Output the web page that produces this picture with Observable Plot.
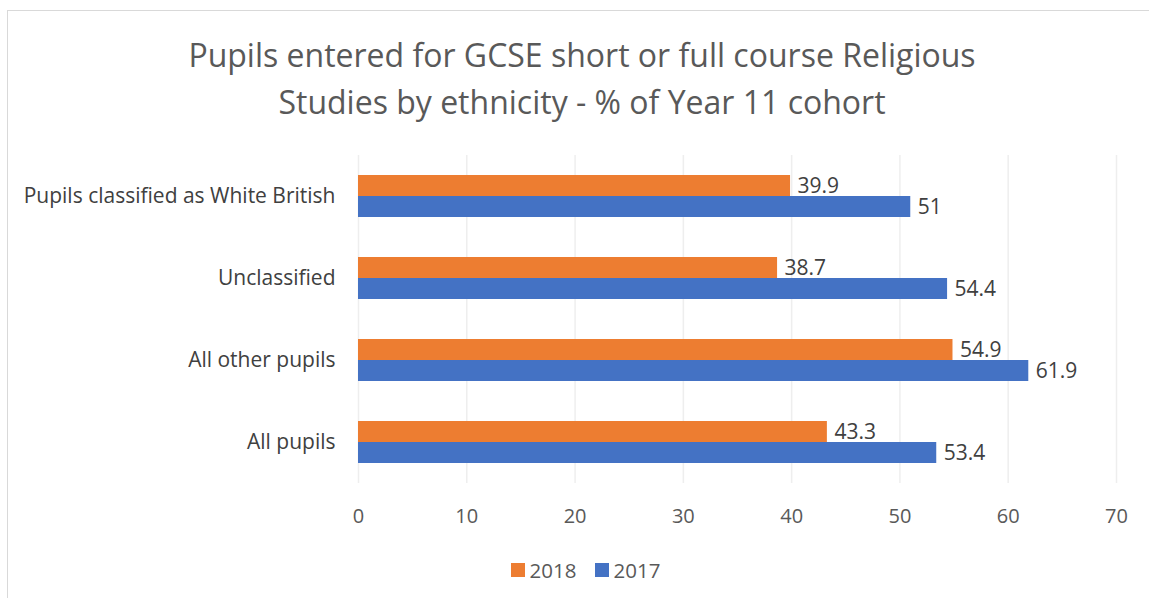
<!DOCTYPE html>
<html>
<head>
<meta charset="utf-8">
<script src="https://cdn.jsdelivr.net/npm/d3@7"></script>
<script src="https://cdn.jsdelivr.net/npm/@observablehq/plot@0.6"></script>
<style>
  html, body { margin: 0; padding: 0; background: #fff; }
  body { width: 1149px; height: 598px; overflow: hidden; position: relative; font-family: "Open Sans", sans-serif; }
  #frame { position: absolute; left: 7px; top: 10px; width: 1160px; height: 600px; border: 1px solid #d9d9d9; box-sizing: border-box; }
  #title { position: absolute; left: 7px; width: 1150px; top: 31px; text-align: center; color: #595959; font-size: 32px; line-height: 47px; }
  #chart { position: absolute; left: 0; top: 140px; }
  #legend { position: absolute; top: 556px; left: 0; width: 1149px; display: flex; justify-content: center; gap: 18px; color: #595959; font-size: 20.5px; padding-left: 22px; box-sizing: border-box; }
  #legend span.item { display: flex; align-items: center; }
  #legend span.sw { display: inline-block; width: 14px; height: 14px; margin-right: 5px; }
</style>
</head>
<body>
<div id="frame"></div>
<div id="title">Pupils entered for GCSE short or full course Religious<br>Studies by ethnicity - % of Year 11 cohort</div>
<div id="chart"></div>
<div id="legend"></div>
<script>
const categories = ["Pupils classified as White British", "Unclassified", "All other pupils", "All pupils"];
const years = ["2018", "2017"];
const values2018 = [39.9, 38.7, 54.9, 43.3];
const values2017 = [51, 54.4, 61.9, 53.4];
const xTicks = [0, 10, 20, 30, 40, 50, 60, 70];
const colors = ["#ED7D31", "#4472C4"];

const data = [];
categories.forEach((c, i) => {
  data.push({category: c, year: "2018", value: values2018[i]});
  data.push({category: c, year: "2017", value: values2017[i]});
});

const chart = Plot.plot({
  width: 1149,
  height: 400,
  marginLeft: 358,
  marginRight: 33,
  marginTop: 15,
  marginBottom: 57,
  style: {fontFamily: "'Open Sans', sans-serif", fontSize: "20px", color: "#595959", background: "transparent"},
  x: {domain: [0, 70], ticks: xTicks, tickSize: 0, tickPadding: 25, label: null, grid: true},
  y: {domain: years, axis: null, paddingInner: 0, paddingOuter: 0.93},
  fy: {domain: categories, label: null, padding: 0, tickSize: 0, tickPadding: 23},
  color: {domain: years, range: colors},
  facet: {data: data, y: "category"},
  marks: [
    Plot.barX(data, {x: "value", y: "year", fill: "year"}),
    Plot.text(data, {x: "value", y: "year", text: d => String(d.value), textAnchor: "start", dx: 7, fill: "#404040", fontSize: 21})
  ]
});
document.getElementById("chart").appendChild(chart);
d3.select(chart).selectAll('g[aria-label^="fy-axis"]').attr("fill", "#404040").attr("font-size", 21);
d3.select(chart).selectAll('g[aria-label^="x-grid"], g[aria-label^="x-axis"] line').attr("stroke", "#d9d9d9").attr("stroke-opacity", 1).attr("stroke-width", 1.5);

const legend = d3.select("#legend");
years.forEach((y, i) => {
  const it = legend.append("span").attr("class", "item");
  it.append("span").attr("class", "sw").style("background", colors[i]);
  it.append("span").text(y);
});
</script>
</body>
</html>
